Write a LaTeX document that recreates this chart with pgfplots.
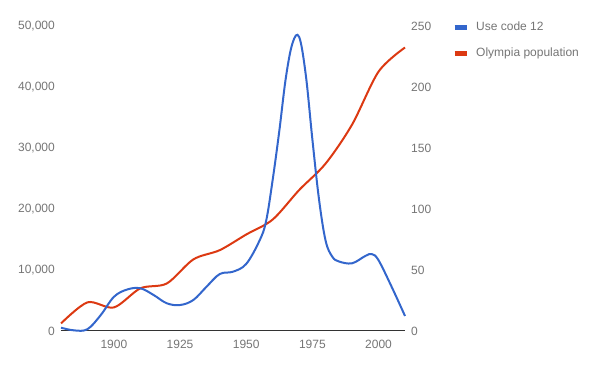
\documentclass[border=0pt]{standalone}
\usepackage{fontspec}
\setmainfont{Liberation Sans}
\usepackage{pgfplots}
\pgfplotsset{compat=1.18}
\definecolor{gblue}{HTML}{3366CC}
\definecolor{gred}{HTML}{DC3912}
\definecolor{glabel}{HTML}{757575}
\definecolor{gaxis}{HTML}{333333}

\begin{document}
\begin{tikzpicture}
\useasboundingbox (0,0) rectangle (600pt,371pt);
\pgfplotsset{
  base/.style={
    scale only axis, width=344pt, height=305pt,
    at={(61pt,40pt)}, anchor=south west,
    xmin=1880, xmax=2010,
    ymin=0,
    major tick length=0pt,
    tick label style={font=\fontsize{12}{14}\selectfont, text=glabel, inner sep=0pt},
    /pgf/number format/assume math mode=true,
    scaled y ticks=false,
    clip=false,
  }
}
\begin{axis}[base,
  ymax=50000, ytick={0,10000,...,50000},
  yticklabel style={/pgf/number format/1000 sep={,}, xshift=-6pt},
  xtick={1900,1925,1950,1975,2000},
  xticklabel style={/pgf/number format/1000 sep={}, yshift=-9pt},
  axis x line*=bottom, axis y line*=left,
  y axis line style={draw=none},
  x axis line style={gaxis, line width=1pt},
]
\addplot[gred, line width=2pt, smooth, tension=0.5] table {
x y
1880 1232
1890 4698
1900 3863
1910 6996
1920 7795
1930 11733
1940 13254
1950 15819
1960 18273
1970 23111
1980 27447
1990 33840
2000 42514
2010 46478
};
\end{axis}
\begin{axis}[base, ymax=250, ytick={0,50,...,250},
  axis y line*=right, axis x line=none,
  y axis line style={draw=none},
  yticklabel style={xshift=6pt},
  legend style={at={(axis description cs:1,1)}, anchor=north west,
    xshift=47pt, yshift=4.7pt, draw=none, fill=none, inner sep=0pt,
    font=\fontsize{12}{14}\selectfont, text=glabel,
    nodes={inner sep=0pt, text height=9pt, text depth=3pt},
    row sep=14pt, column sep=7pt},
  legend cell align=left,
  legend image code/.code={\draw[#1, line width=5pt, line cap=butt] (0pt,0pt) -- (12pt,0pt);},
]
\addplot[gblue, line width=2pt, smooth, tension=0.6] table {
x y
1880 2.7
1885 0.5
1890 1.5
1895 13
1900 28
1905 34
1910 35
1915 29.5
1920 22.7
1925 21.3
1930 25.4
1935 36.3
1940 46.7
1945 48.6
1950 55
1955 74
1957.5 90
1960 124
1962.5 164
1965 208
1967.5 236
1970 241
1972.5 210
1975 157
1977.5 108
1980 74
1982.5 61
1985 57
1990 55.5
1995 61.5
1997.5 63
2000 58
2005 36
2010 12.3
};
\addlegendentry{Use code 12}
\addlegendimage{gred, line width=2pt}
\addlegendentry{Olympia population}
\end{axis}
\end{tikzpicture}
\end{document}
